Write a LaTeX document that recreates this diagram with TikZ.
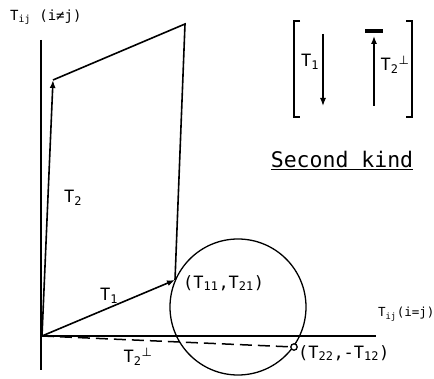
\documentclass[tikz,border=0pt]{standalone}
\usepackage{fontspec}
\setmainfont{DejaVu Sans Mono}
\newfontfamily\symfont{DejaVu Sans}
\usetikzlibrary{arrows.meta, positioning, calc}

\newcommand{\perpsup}{\textsuperscript{\symfont ⊥}}

\begin{document}
\begin{tikzpicture}[
x=1pt, y=-1pt,
line/.style={line width=1.6pt},
vec/.style={line width=1.6pt, -{Latex[length=8pt, width=6pt]}},
lab/.style={font=\fontsize{17}{19}\selectfont, inner sep=1pt},
]
\useasboundingbox (0,0) rectangle (434,379);

% axes
\coordinate (O) at (42,336);
\coordinate (ytop) at (41,40);
\coordinate (ybot) at (41,370);
\coordinate (xend) at (376,336);
\draw[line] (ytop) -- (ybot);
\draw[line] (O) -- (xend);

% vectors and construction lines
\coordinate (A) at (53,80);
\coordinate (B) at (185,24);
\coordinate (P) at (175,280);
\coordinate (Q) at (294,347);
\coordinate (C) at (238,307);
\draw[vec] (O) -- (A);
\draw[line] (A) -- (B) -- (P);
\draw[vec] (O) -- (P);
\draw[line width=1.3pt] (C) circle (68pt);
\draw[line width=1.5pt, dash pattern=on 12pt off 6pt, shorten >=3pt] (O) -- (Q);
\draw[line width=1.3pt, fill=white] (Q) circle (3.2pt);

% labels
\node[lab, font=\fontsize{14}{16}\selectfont, anchor=west] (tne) at (9,17) {T\textsubscript{ij} (i≠j)};
\node[lab, font=\fontsize{12.5}{14}\selectfont, anchor=west] (teq) at (377,314) {T\textsubscript{ij}(i=j)};
\node[lab] (t2) at (73,198) {T\textsubscript{2}};
\node[lab] (t1) at (109,296) {T\textsubscript{1}};
\node[lab, anchor=west] (p) at (182,283) {(T\textsubscript{11},T\textsubscript{21})};
\node[lab, anchor=west] (q) at (297,353) {(T\textsubscript{22},-T\textsubscript{12})};
\node[lab] (t2p) at (138,357) {T\textsubscript{2}\perpsup};

% second kind inset
\coordinate (bl1) at (294,21);
\coordinate (bl2) at (294,117);
\coordinate (br1) at (412,21);
\coordinate (br2) at (412,117);
\draw[line] ($(bl1)+(6,0)$) -- (bl1) -- (bl2) -- ($(bl2)+(6,0)$);
\draw[line] ($(br1)+(-6,0)$) -- (br1) -- (br2) -- ($(br2)+(-6,0)$);
\coordinate (a1s) at (323,34);
\coordinate (a1e) at (323,106);
\coordinate (a2s) at (374,106);
\coordinate (a2e) at (374,36);
\draw[vec, line width=1.3pt] (a1s) -- (a1e);
\draw[vec, line width=1.3pt] (a2s) -- (a2e);
\coordinate (m1) at (365,31);
\coordinate (m2) at (383,31);
\draw[line width=3.5pt] (m1) -- (m2);
\node[lab] (k1) at (310,62) {T\textsubscript{1}};
\node[lab] (k2) at (395,65) {T\textsubscript{2}\perpsup};
\node[font=\fontsize{21.5}{24}\selectfont, inner sep=1pt] (kind) at (342,160) {\underline{Second kind}};
\end{tikzpicture}
\end{document}
